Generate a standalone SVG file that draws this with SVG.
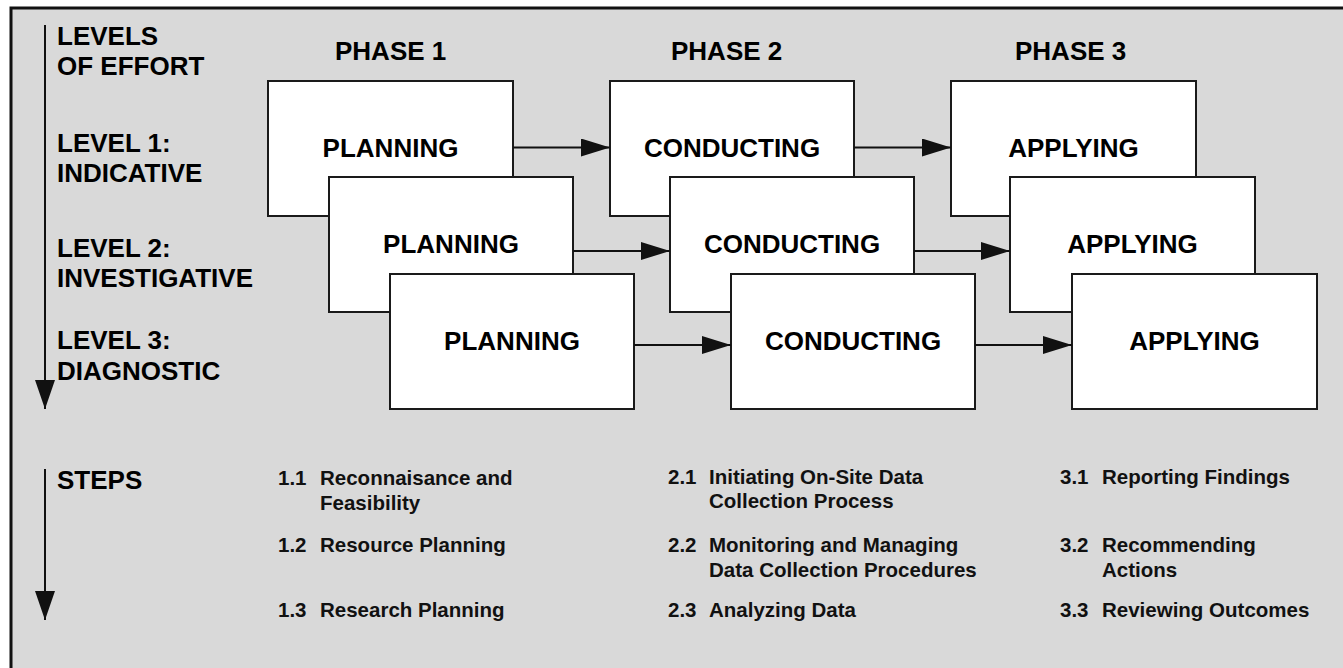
<svg xmlns="http://www.w3.org/2000/svg" width="1343" height="668" viewBox="0 0 1343 668">
<style>
.bg{fill:#d9d9d9;stroke:#111;stroke-width:3}
.box{fill:#fff;stroke:#1a1a1a;stroke-width:2}
.lbl{font-family:"Liberation Sans",Arial,Helvetica,sans-serif;font-weight:bold;font-size:26px;fill:#000}
.node{font-family:"Liberation Sans",Arial,Helvetica,sans-serif;font-weight:bold;font-size:26px;fill:#000;text-anchor:middle}
.step{font-family:"Liberation Sans",Arial,Helvetica,sans-serif;font-weight:bold;font-size:20.5px;fill:#111}
.conn{stroke:#111;stroke-width:2;fill:none}
</style>
<defs>
<marker id="ah" markerUnits="userSpaceOnUse" markerWidth="30" markerHeight="20" refX="29" refY="9" orient="auto">
<path d="M0,0 L29,9 L0,18 Z" fill="#111"/>
</marker>
<marker id="ahv" markerUnits="userSpaceOnUse" markerWidth="30" markerHeight="22" refX="29" refY="10" orient="auto">
<path d="M0,0 L29,10 L0,20 Z" fill="#111"/>
</marker>
</defs>
<rect x="0" y="0" width="1343" height="668" fill="#fff"/>
<rect class="bg" x="11" y="8" width="1345" height="675"/>

<g id="axes">
<line class="conn" x1="45" y1="25" x2="45" y2="409" marker-end="url(#ahv)"/>
<line class="conn" x1="45" y1="469" x2="45" y2="620" marker-end="url(#ahv)"/>
</g>

<g id="labels">
<text class="lbl" x="57" y="45">LEVELS</text>
<text class="lbl" x="57" y="75">OF EFFORT</text>
<text class="lbl" x="57" y="152">LEVEL 1:</text>
<text class="lbl" x="57" y="182">INDICATIVE</text>
<text class="lbl" x="57" y="257">LEVEL 2:</text>
<text class="lbl" x="57" y="287">INVESTIGATIVE</text>
<text class="lbl" x="57" y="349">LEVEL 3:</text>
<text class="lbl" x="57" y="380">DIAGNOSTIC</text>
<text class="lbl" x="57" y="489">STEPS</text>
<text class="lbl" x="335" y="60">PHASE 1</text>
<text class="lbl" x="671" y="60">PHASE 2</text>
<text class="lbl" x="1015" y="60">PHASE 3</text>
</g>

<g id="n-plan1"><rect class="box" x="268" y="81" width="245" height="135"/><text class="node" x="390.5" y="157">PLANNING</text></g>
<g id="n-cond1"><rect class="box" x="610" y="81" width="244" height="135"/><text class="node" x="732" y="157">CONDUCTING</text></g>
<g id="n-appl1"><rect class="box" x="951" y="81" width="245" height="135"/><text class="node" x="1073.5" y="157">APPLYING</text></g>

<g id="n-plan2"><rect class="box" x="329" y="177" width="244" height="135"/><text class="node" x="451" y="253">PLANNING</text></g>
<g id="n-cond2"><rect class="box" x="670" y="177" width="244" height="135"/><text class="node" x="792" y="253">CONDUCTING</text></g>
<g id="n-appl2"><rect class="box" x="1010" y="177" width="245" height="135"/><text class="node" x="1132.5" y="253">APPLYING</text></g>

<g id="n-plan3"><rect class="box" x="390" y="274" width="244" height="135"/><text class="node" x="512" y="350">PLANNING</text></g>
<g id="n-cond3"><rect class="box" x="731" y="274" width="244" height="135"/><text class="node" x="853" y="350">CONDUCTING</text></g>
<g id="n-appl3"><rect class="box" x="1072" y="274" width="245" height="135"/><text class="node" x="1194.5" y="350">APPLYING</text></g>

<g id="connectors">
<line class="conn" x1="513" y1="147.5" x2="610" y2="147.5" marker-end="url(#ah)"/>
<line class="conn" x1="854" y1="147.5" x2="951" y2="147.5" marker-end="url(#ah)"/>
<line class="conn" x1="573" y1="251" x2="670" y2="251" marker-end="url(#ah)"/>
<line class="conn" x1="914" y1="251" x2="1010" y2="251" marker-end="url(#ah)"/>
<line class="conn" x1="634" y1="345" x2="731" y2="345" marker-end="url(#ah)"/>
<line class="conn" x1="975" y1="345" x2="1072" y2="345" marker-end="url(#ah)"/>
</g>

<g id="steps">
<text class="step" x="278" y="485">1.1</text><text class="step" x="320" y="485">Reconnaisance and</text>
<text class="step" x="320" y="510">Feasibility</text>
<text class="step" x="278" y="552">1.2</text><text class="step" x="320" y="552">Resource Planning</text>
<text class="step" x="278" y="617">1.3</text><text class="step" x="320" y="617">Research Planning</text>

<text class="step" x="668" y="484">2.1</text><text class="step" x="709" y="484">Initiating On-Site Data</text>
<text class="step" x="709" y="508">Collection Process</text>
<text class="step" x="668" y="552">2.2</text><text class="step" x="709" y="552">Monitoring and Managing</text>
<text class="step" x="709" y="577">Data Collection Procedures</text>
<text class="step" x="668" y="617">2.3</text><text class="step" x="709" y="617">Analyzing Data</text>

<text class="step" x="1060" y="484">3.1</text><text class="step" x="1102" y="484">Reporting Findings</text>
<text class="step" x="1060" y="552">3.2</text><text class="step" x="1102" y="552">Recommending</text>
<text class="step" x="1102" y="577">Actions</text>
<text class="step" x="1060" y="617">3.3</text><text class="step" x="1102" y="617">Reviewing Outcomes</text>
</g>
</svg>
